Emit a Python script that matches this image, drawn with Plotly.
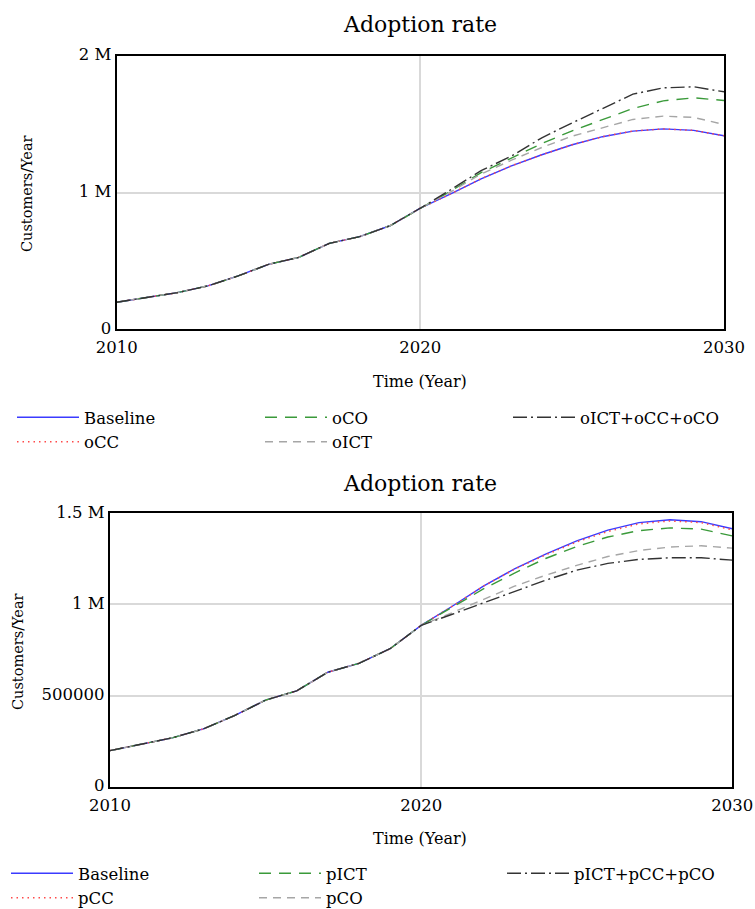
import plotly.graph_objects as go

# ---------------- data ----------------
years = list(range(2010, 2031))
history = [0.198, 0.231, 0.268, 0.317, 0.39, 0.475, 0.526, 0.628, 0.677, 0.757, 0.885]  # M, 2010-2020

baseline_f = [0.99, 1.10, 1.195, 1.276, 1.349, 1.408, 1.449, 1.465, 1.454, 1.415]
# top chart scenarios (2021-2030)
oCC_f = [0.99, 1.10, 1.195, 1.276, 1.349, 1.408, 1.449, 1.465, 1.454, 1.415]
oCO_f = [1.01, 1.145, 1.249, 1.358, 1.451, 1.534, 1.614, 1.67, 1.692, 1.673]
oICT_f = [1.005, 1.135, 1.236, 1.329, 1.412, 1.475, 1.534, 1.558, 1.549, 1.497]
oAll_f = [1.02, 1.16, 1.266, 1.40, 1.509, 1.614, 1.719, 1.765, 1.773, 1.736]
# bottom chart scenarios (2021-2030)
pCC_f = [0.99, 1.10, 1.193, 1.272, 1.343, 1.40, 1.442, 1.458, 1.449, 1.409]
pICT_f = [0.985, 1.085, 1.172, 1.252, 1.318, 1.37, 1.405, 1.42, 1.413, 1.376]
pCO_f = [0.955, 1.027, 1.10, 1.16, 1.214, 1.263, 1.296, 1.315, 1.322, 1.309]
pAll_f = [0.946, 1.009, 1.073, 1.133, 1.188, 1.225, 1.247, 1.256, 1.256, 1.243]

top_names = ["Baseline", "oCC", "oCO", "oICT", "oICT+oCC+oCO"]
bot_names = ["Baseline", "pCC", "pICT", "pCO", "pICT+pCC+pCO"]
top_series = [baseline_f, oCC_f, oCO_f, oICT_f, oAll_f]
bot_series = [baseline_f, pCC_f, pICT_f, pCO_f, pAll_f]

top_yticks = [0, 1e6, 2e6]
top_ylabels = ["0", "1 M", "2 M"]
bot_yticks = [0, 5e5, 1e6, 1.5e6]
bot_ylabels = ["0", "500000", "1 M", "1.5 M"]
x_ticks = [2010, 2020, 2030]

# ---------------- style ----------------
W, H = 755, 909
FONT = "DejaVu Serif, serif"
styles = [
    dict(color="#3b3bff", dash="solid", width=1.4),
    dict(color="#ff4a4a", dash="1.5px,4px", width=1.5),
    dict(color="#3a9a3a", dash="12px,8px", width=1.4),
    dict(color="#a6a6a6", dash="8px,6px", width=1.4),
    dict(color="#333333", dash="14px,4px,2px,4px", width=1.4),
]
ranks = [1, 4, 2, 5, 3]  # column-major legend order

def px_x(p):
    return p / W

def px_y(p):
    return 1 - p / H

fig = go.Figure()

def add_series(names, series, xa, ya, legend):
    for i, (n, s) in enumerate(zip(names, series)):
        vals = [v * 1e6 for v in history + s]
        fig.add_trace(go.Scatter(
            x=years, y=vals, name=n, mode="lines", line=styles[i],
            xaxis=xa, yaxis=ya, legend=legend, legendrank=ranks[i],
            hoverinfo="skip"))

add_series(top_names, top_series, "x", "y", "legend")
add_series(bot_names, bot_series, "x2", "y2", "legend2")

axis_common = dict(
    showline=True, mirror=True, linecolor="black", linewidth=2.2,
    showgrid=True, gridcolor="#d9d9d9", gridwidth=1.5, zeroline=False,
    ticks="", tickfont=dict(family=FONT, size=16.5, color="black"),
    fixedrange=True, automargin=False,
)

legend_common = dict(
    orientation="h", xanchor="left", yanchor="top",
    entrywidth=171, entrywidthmode="pixels", itemwidth=62,
    font=dict(family=FONT, size=16.5, color="black"),
    bgcolor="rgba(0,0,0,0)", tracegroupgap=0, borderwidth=0,
)

fig.update_layout(
    width=W, height=H,
    margin=dict(l=0, r=0, t=0, b=0, pad=0, autoexpand=False),
    paper_bgcolor="white", plot_bgcolor="white",
    font=dict(family=FONT, color="black"),
    xaxis=dict(domain=[px_x(116.7), px_x(724)], range=[2010, 2030], tickvals=x_ticks,
               anchor="y", ticklabelstandoff=2, **axis_common),
    yaxis=dict(domain=[px_y(329.3), px_y(55.7)], range=[0, 2e6], tickvals=top_yticks,
               ticktext=top_ylabels, anchor="x", ticklabelshift=-1, **axis_common),
    xaxis2=dict(domain=[px_x(110), px_x(732.3)], range=[2010, 2030], tickvals=x_ticks,
                anchor="y2", ticklabelstandoff=2, **axis_common),
    yaxis2=dict(domain=[px_y(786.7), px_y(513.3)], range=[0, 1.5e6], tickvals=bot_yticks,
                ticktext=bot_ylabels, anchor="x2", ticklabelshift=-1, **axis_common),
    legend=dict(x=px_x(12), y=px_y(400), **legend_common),
    legend2=dict(x=px_x(6), y=px_y(856), **legend_common),
    showlegend=True,
)

def ann(text, x, y, size, angle=0):
    fig.add_annotation(text=text, x=px_x(x), y=px_y(y), xref="paper", yref="paper",
                       showarrow=False, textangle=angle, xanchor="center", yanchor="middle",
                       font=dict(family=FONT, size=size, color="black"))

ann("Adoption rate", 420, 25, 22)
ann("Adoption rate", 420, 483, 22)
ann("Time (Year)", 420, 381, 16)
ann("Time (Year)", 420, 838, 16)
ann("Customers/Year", 27, 194, 14.5, -90)
ann("Customers/Year", 18, 652, 14.5, -90)

fig.write_html(
    "out.html",
    config={"displayModeBar": False},
    post_script="document.body.style.margin='0';document.body.style.overflow='hidden';",
)
